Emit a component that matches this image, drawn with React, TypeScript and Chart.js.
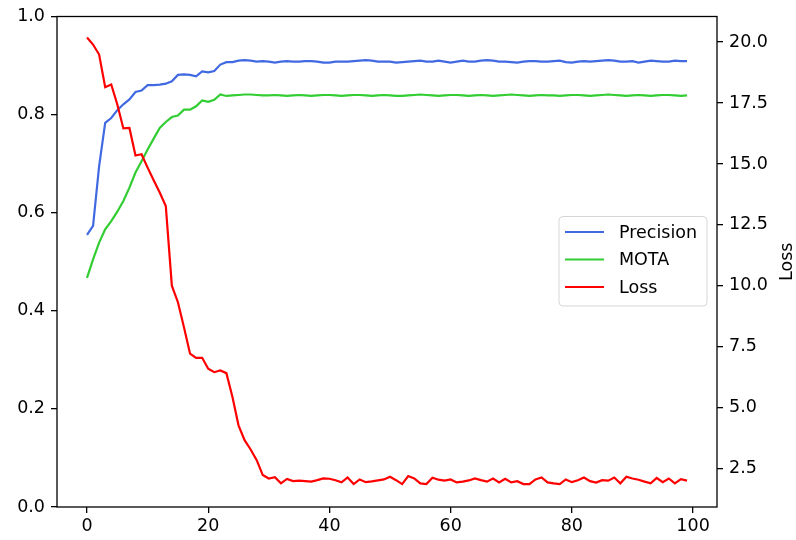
import React, { useEffect, useRef } from "react";
import { Chart, registerables } from "chart.js";

Chart.register(...registerables);

const epochs: number[] = Array.from({ length: 100 }, (_, i) => i);

const precision: number[] = [
  0.555, 0.573, 0.695, 0.783, 0.793, 0.809, 0.821, 0.831, 0.846, 0.849,
  0.860, 0.860, 0.861, 0.863, 0.868, 0.881, 0.882, 0.881, 0.878, 0.888,
  0.886, 0.889, 0.902, 0.907, 0.907, 0.910, 0.911, 0.910, 0.908, 0.909,
  0.908, 0.906, 0.908, 0.909, 0.908, 0.908, 0.909, 0.909, 0.908, 0.906,
  0.906, 0.908, 0.908, 0.908, 0.909, 0.910, 0.911, 0.910, 0.908, 0.908,
  0.908, 0.906, 0.907, 0.908, 0.909, 0.910, 0.908, 0.908, 0.910, 0.908,
  0.906, 0.908, 0.910, 0.908, 0.908, 0.910, 0.911, 0.910, 0.908, 0.908,
  0.907, 0.906, 0.908, 0.909, 0.909, 0.908, 0.908, 0.909, 0.910, 0.907,
  0.906, 0.908, 0.909, 0.908, 0.909, 0.910, 0.911, 0.910, 0.908, 0.908,
  0.909, 0.906, 0.908, 0.910, 0.909, 0.908, 0.908, 0.910, 0.909, 0.909,
];

const mota: number[] = [
  0.467, 0.505, 0.539, 0.566, 0.583, 0.602, 0.624, 0.651, 0.682, 0.705,
  0.729, 0.751, 0.773, 0.785, 0.795, 0.798, 0.810, 0.810, 0.817, 0.829,
  0.826, 0.830, 0.841, 0.838, 0.839, 0.840, 0.841, 0.841, 0.840, 0.839,
  0.839, 0.840, 0.839, 0.838, 0.839, 0.840, 0.839, 0.838, 0.839, 0.840,
  0.840, 0.839, 0.838, 0.839, 0.840, 0.840, 0.839, 0.838, 0.839, 0.840,
  0.839, 0.838, 0.838, 0.839, 0.840, 0.841, 0.840, 0.839, 0.838, 0.839,
  0.840, 0.840, 0.839, 0.838, 0.839, 0.840, 0.839, 0.838, 0.839, 0.840,
  0.841, 0.840, 0.839, 0.838, 0.839, 0.840, 0.839, 0.839, 0.838, 0.839,
  0.840, 0.840, 0.839, 0.838, 0.839, 0.840, 0.841, 0.840, 0.839, 0.838,
  0.839, 0.840, 0.839, 0.838, 0.839, 0.840, 0.840, 0.839, 0.838, 0.839,
];

const loss: number[] = [
  20.19, 19.9, 19.49, 18.15, 18.26, 17.44, 16.46, 16.48, 15.35, 15.4,
  14.85, 14.33, 13.83, 13.28, 10.01, 9.33, 8.3, 7.22, 7.05, 7.05,
  6.6, 6.46, 6.53, 6.42, 5.44, 4.28, 3.67, 3.29, 2.85, 2.24,
  2.1, 2.15, 1.9, 2.08, 1.99, 2.01, 1.99, 1.97, 2.03, 2.1,
  2.09, 2.03, 1.94, 2.14, 1.87, 2.06, 1.95, 1.98, 2.02, 2.06,
  2.17, 2.03, 1.87, 2.2, 2.1, 1.9, 1.87, 2.13, 2.05, 2.01,
  2.06, 1.94, 1.97, 2.02, 2.1, 2.03, 1.97, 2.1, 1.94, 2.09,
  1.94, 1.99, 1.87, 1.87, 2.06, 2.14, 1.94, 1.9, 1.87, 2.06,
  1.95, 2.03, 2.14, 1.99, 1.93, 2.03, 2.01, 2.14, 1.9, 2.17,
  2.1, 2.05, 1.97, 1.9, 2.12, 1.95, 2.1, 1.9, 2.07, 2.01,
];

const xTicks: number[] = [0, 20, 40, 60, 80, 100];
const leftTicks: number[] = [0, 0.2, 0.4, 0.6, 0.8, 1.0];
const rightTicks: number[] = [2.5, 5, 7.5, 10, 12.5, 15, 17.5, 20];

const seriesNames: string[] = ["Precision", "MOTA", "Loss"];
const seriesColors: string[] = ["#4169e1", "#32cd32", "#ff0000"];
const rightAxisTitle = "Loss";

const FONT = "'DejaVu Sans', Verdana, sans-serif";
const FS = 17.5;

const overlayPlugin = {
  id: "overlay",
  afterDraw(chart: any) {
    const ctx = chart.ctx as CanvasRenderingContext2D;
    const a = chart.chartArea;
    ctx.save();
    // frame
    ctx.strokeStyle = "#000";
    ctx.lineWidth = 1.3;
    ctx.strokeRect(a.left, a.top, a.right - a.left, a.bottom - a.top);

    // legend
    const bx = 559, by = 216.5, bw = 148, bh = 89.5, r = 4;
    ctx.beginPath();
    ctx.moveTo(bx + r, by);
    ctx.lineTo(bx + bw - r, by);
    ctx.quadraticCurveTo(bx + bw, by, bx + bw, by + r);
    ctx.lineTo(bx + bw, by + bh - r);
    ctx.quadraticCurveTo(bx + bw, by + bh, bx + bw - r, by + bh);
    ctx.lineTo(bx + r, by + bh);
    ctx.quadraticCurveTo(bx, by + bh, bx, by + bh - r);
    ctx.lineTo(bx, by + r);
    ctx.quadraticCurveTo(bx, by, bx + r, by);
    ctx.closePath();
    ctx.fillStyle = "rgba(255,255,255,0.8)";
    ctx.fill();
    ctx.strokeStyle = "rgba(204,204,204,0.8)";
    ctx.lineWidth = 1;
    ctx.stroke();

    ctx.font = `${FS}px ${FONT}`;
    ctx.textAlign = "left";
    ctx.textBaseline = "alphabetic";
    seriesNames.forEach((name, i) => {
      const yy = 232 + i * 27.5;
      ctx.strokeStyle = seriesColors[i];
      ctx.lineWidth = 2.2;
      ctx.beginPath();
      ctx.moveTo(565, yy);
      ctx.lineTo(604, yy);
      ctx.stroke();
      ctx.fillStyle = "#000";
      ctx.fillText(name, 619, yy + 5.8);
    });

    // right axis title
    ctx.translate(792, (a.top + a.bottom) / 2);
    ctx.rotate(-Math.PI / 2);
    ctx.textAlign = "center";
    ctx.textBaseline = "alphabetic";
    ctx.fillStyle = "#000";
    ctx.fillText(rightAxisTitle, 0, 0);
    ctx.restore();
  },
};

const tickFont = { family: FONT, size: FS };
const gridOpts = {
  drawOnChartArea: false,
  drawTicks: true,
  tickLength: 6,
  color: "#000",
  lineWidth: 1.3,
};

export default function App() {
  const canvasRef = useRef<HTMLCanvasElement | null>(null);

  useEffect(() => {
    if (!canvasRef.current) return;
    const chart = new Chart(canvasRef.current, {
      type: "line",
      data: {
        datasets: [
          {
            label: seriesNames[0],
            data: epochs.map((x, i) => ({ x, y: precision[i] })),
            borderColor: seriesColors[0],
            backgroundColor: seriesColors[0],
            borderWidth: 2.2,
            pointRadius: 0,
            tension: 0,
            yAxisID: "y",
            order: 2,
          },
          {
            label: seriesNames[1],
            data: epochs.map((x, i) => ({ x, y: mota[i] })),
            borderColor: seriesColors[1],
            backgroundColor: seriesColors[1],
            borderWidth: 2.2,
            pointRadius: 0,
            tension: 0,
            yAxisID: "y",
            order: 1,
          },
          {
            label: seriesNames[2],
            data: epochs.map((x, i) => ({ x, y: loss[i] })),
            borderColor: seriesColors[2],
            backgroundColor: seriesColors[2],
            borderWidth: 2.2,
            pointRadius: 0,
            tension: 0,
            yAxisID: "y1",
            order: 0,
          },
        ],
      },
      options: {
        animation: false,
        responsive: false,
        maintainAspectRatio: false,
        layout: { padding: { top: 15, left: 0, right: 0, bottom: 0 } },
        plugins: {
          legend: { display: false },
          tooltip: { enabled: false },
          title: { display: false },
        },
        scales: {
          x: {
            type: "linear",
            position: "bottom",
            min: -4.95,
            max: 103.95,
            afterBuildTicks: (s: any) => {
              s.ticks = xTicks.map((v) => ({ value: v }));
            },
            afterFit: (s: any) => {
              s.height = 33;
            },
            ticks: {
              font: tickFont,
              color: "#000",
              padding: 3,
              maxRotation: 0,
              autoSkip: false,
              callback: (v: any) => String(v),
            },
            grid: gridOpts,
            border: { display: false },
          },
          y: {
            type: "linear",
            position: "left",
            min: 0,
            max: 1,
            afterBuildTicks: (s: any) => {
              s.ticks = leftTicks.map((v) => ({ value: v }));
            },
            afterFit: (s: any) => {
              s.width = 57;
            },
            ticks: {
              font: tickFont,
              color: "#000",
              padding: 6,
              autoSkip: false,
              callback: (v: any) => Number(v).toFixed(1),
            },
            grid: gridOpts,
            border: { display: false },
          },
          y1: {
            type: "linear",
            position: "right",
            min: 0.93,
            max: 21.05,
            afterBuildTicks: (s: any) => {
              s.ticks = rightTicks.map((v) => ({ value: v }));
            },
            afterFit: (s: any) => {
              s.width = 79;
            },
            ticks: {
              font: tickFont,
              color: "#000",
              padding: 6,
              autoSkip: false,
              callback: (v: any) => Number(v).toFixed(1),
            },
            grid: gridOpts,
            border: { display: false },
          },
        },
      },
      plugins: [overlayPlugin],
    } as any);
    return () => chart.destroy();
  }, []);

  return (
    <div
      style={{
        position: "absolute",
        left: 0,
        top: 0,
        width: 796,
        height: 540,
        background: "#fff",
      }}
    >
      <canvas ref={canvasRef} width={796} height={540} style={{ display: "block" }} />
    </div>
  );
}
